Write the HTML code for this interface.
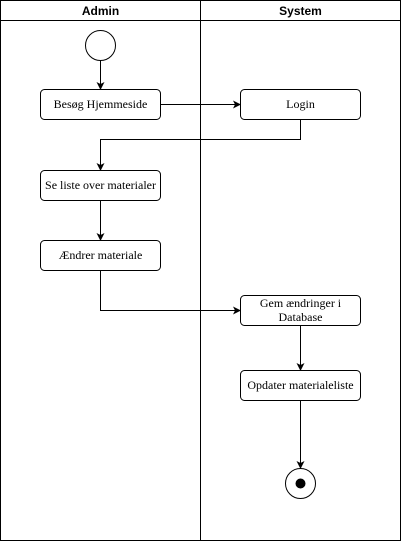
<!DOCTYPE html>
<html><head><meta charset="utf-8"><style>
html,body{margin:0;padding:0;background:#fff;}
svg{display:block;}
.t{font-family:"Liberation Serif",serif;font-size:12px;fill:#000;}
.h{font-family:"Liberation Sans",sans-serif;font-size:12px;font-weight:bold;fill:#000;}
</style></head><body>
<svg width="402" height="542" viewBox="0 0 402 542" xmlns="http://www.w3.org/2000/svg">
<defs><marker id="a" markerWidth="8" markerHeight="8" refX="7" refY="4" orient="auto" markerUnits="userSpaceOnUse"><path d="M0,0 L8,4 L0,8 L2,4 Z" fill="#000"/></marker></defs>
<g fill="none" stroke="#000" stroke-width="1">
<rect x="0.5" y="0.5" width="400" height="540"/>
<line x1="0.5" y1="20.5" x2="400.5" y2="20.5"/>
<line x1="200.5" y1="0.5" x2="200.5" y2="540.5"/>
<circle cx="100.5" cy="45.5" r="15"/>
<rect x="40.5" y="89.5" width="120" height="30" rx="4"/>
<rect x="240.5" y="89.5" width="120" height="30" rx="4"/>
<rect x="40.5" y="170.5" width="120" height="30" rx="4"/>
<rect x="40.5" y="240.5" width="120" height="30" rx="4"/>
<rect x="240.5" y="295.5" width="120" height="30" rx="4"/>
<rect x="240.5" y="370.5" width="120" height="30" rx="4"/>
<circle cx="300.5" cy="483.5" r="15"/>
<path d="M100.5 60.5 V89" marker-end="url(#a)"/>
<path d="M160.5 104.5 H240" marker-end="url(#a)"/>
<path d="M300.5 119.5 V139.5 H100.5 V170" marker-end="url(#a)"/>
<path d="M100.5 200.5 V240" marker-end="url(#a)"/>
<path d="M100.5 270.5 V310.5 H240" marker-end="url(#a)"/>
<path d="M300.5 325.5 V370" marker-end="url(#a)"/>
<path d="M300.5 400.5 V468" marker-end="url(#a)"/>
</g>
<circle cx="300.5" cy="483.5" r="5" fill="#000"/>
<text class="h" x="100.5" y="15" text-anchor="middle">Admin</text>
<text class="h" x="300.5" y="15" text-anchor="middle">System</text>
<text class="t" x="100.5" y="108" text-anchor="middle">Besøg Hjemmeside</text>
<text class="t" x="300.5" y="108" text-anchor="middle">Login</text>
<text class="t" x="100.5" y="189" text-anchor="middle">Se liste over materialer</text>
<text class="t" x="100.5" y="259" text-anchor="middle">Ændrer materiale</text>
<text class="t" x="300.5" y="307" text-anchor="middle">Gem ændringer i</text>
<text class="t" x="300.5" y="321" text-anchor="middle">Database</text>
<text class="t" x="300.5" y="389" text-anchor="middle">Opdater materialeliste</text>
</svg>
</body></html>
